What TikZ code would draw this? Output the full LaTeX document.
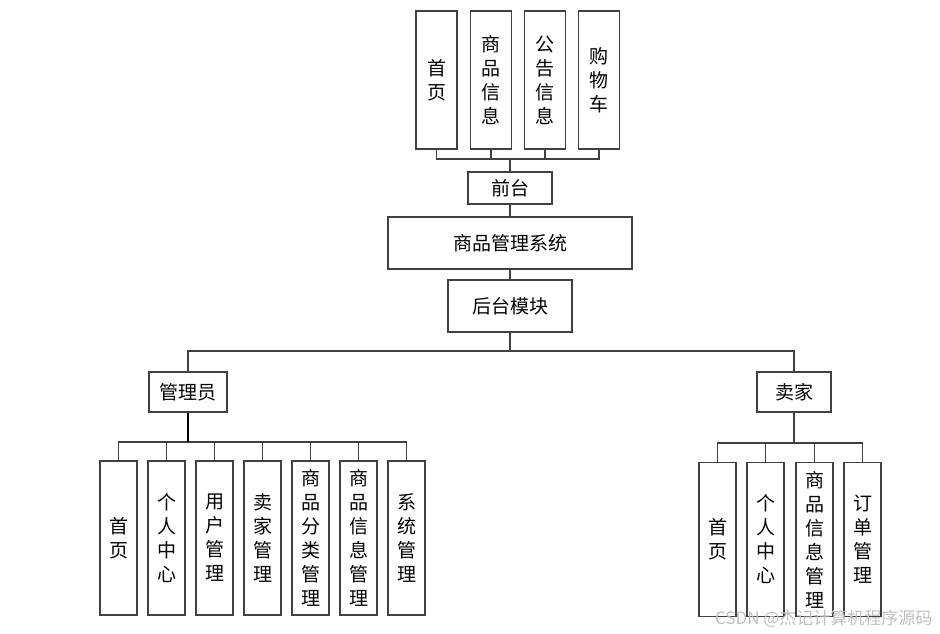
\documentclass[tikz,border=0pt]{standalone}
\usepackage{fontspec}
\newfontfamily\cjk{Noto Sans CJK SC}
\begin{document}
\begin{tikzpicture}[x=1pt,y={(0pt,-1pt)},
  box/.style={draw=black!75, line width=1.2pt, fill=white, inner sep=0pt,
    font=\cjk\fontsize{19}{24}\selectfont, align=center},
  col/.style={box, minimum width=37, minimum height=154},
  topcol/.style={box, minimum width=41, minimum height=138},
  conn/.style={draw=black!75, line width=1.2pt},
  thick conn/.style={draw=black, line width=2pt}]
\useasboundingbox (0,0) rectangle (940,634);
% top
\node[topcol] (t1) at (436.5,80) {首\\页};
\node[topcol] (t2) at (491,80) {商\\品\\信\\息};
\node[topcol] (t3) at (545,80) {公\\告\\信\\息};
\node[topcol] (t4) at (599,80) {购\\物\\车};
\node[box, minimum width=84, minimum height=32] (qt) at (510,188) {前台};
\node[box, minimum width=244, minimum height=52] (sys) at (510,243) {商品管理系统};
\node[box, minimum width=124, minimum height=52] (ht) at (510,306) {后台模块};
\coordinate (topbus) at (510,159);
\foreach \n in {t1,t2,t3,t4} \draw[conn] (\n.south) |- (topbus);
\draw[conn] (topbus) -- (qt.north);
\draw[conn] (qt.south) -- (sys.north);
\draw[conn] (sys.south) -- (ht.north);
% second level
\node[box, minimum width=78, minimum height=40] (gly) at (188,392) {管理员};
\node[box, minimum width=74, minimum height=40] (mj) at (794,392) {卖家};
\coordinate (midbus) at (510,351);
\draw[conn] (ht.south) -- (midbus);
\draw[conn] (gly.north) |- (midbus);
\draw[conn] (mj.north) |- (midbus);
% admin children
\node[col] (a1) at (118.5,538) {首\\页};
\node[col] (a2) at (166.5,538) {个\\人\\中\\心};
\node[col] (a3) at (214.5,538) {用\\户\\管\\理};
\node[col] (a4) at (262.5,538) {卖\\家\\管\\理};
\node[col] (a5) at (310.5,538) {商\\品\\分\\类\\管\\理};
\node[col] (a6) at (358.5,538) {商\\品\\信\\息\\管\\理};
\node[col] (a7) at (406.5,538) {系\\统\\管\\理};
\coordinate (abus) at (188,442);
\foreach \n in {a1,a2,a3,a4,a5,a6,a7} \draw[conn] (\n.north) |- (abus);
\draw[thick conn] (gly.south) -- (abus);
% seller children
\node[col] (s1) at (717.5,539.5) {首\\页};
\node[col] (s2) at (765.5,539.5) {个\\人\\中\\心};
\node[col] (s3) at (814.5,539.5) {商\\品\\信\\息\\管\\理};
\node[col] (s4) at (862.5,539.5) {订\\单\\管\\理};
\coordinate (sbus) at (794,443);
\foreach \n in {s1,s2,s3,s4} \draw[conn] (\n.north) |- (sbus);
\draw[conn] (mj.south) -- (sbus);
% watermark
\node[font=\cjk\fontsize{17}{17}\selectfont, text=black!25, anchor=east] (wm) at (936,619) {CSDN @杰记计算机程序源码};
\end{tikzpicture}
\end{document}
